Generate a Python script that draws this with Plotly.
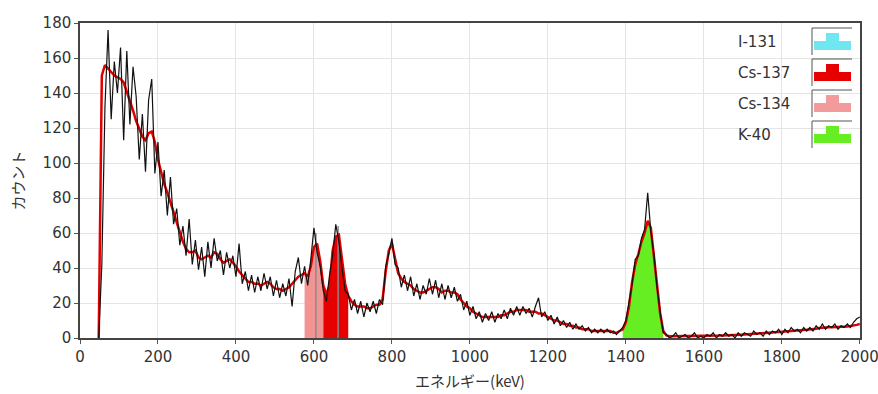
import numpy as np
import plotly.graph_objects as go

# ---------------- data ----------------
channel_start_kev = 48
channel_width_kev = 8

# raw counts (black), one value per 8 keV channel
raw_counts_a = [0, 42, 132, 176, 125, 158, 140, 166, 113, 164, 122, 155, 138, 102, 128, 95,
                136, 148, 94, 112, 81, 96, 70, 92, 65, 74, 53, 64, 47, 68, 42, 56,
                39, 52, 35, 55, 40, 57, 44, 50, 36, 49, 40, 47, 35]
raw_counts_b = [54, 31, 38, 27, 36, 26, 35, 27, 37, 28, 35, 24, 33, 23, 31, 24,
                34, 18, 38, 46, 31, 41, 30, 45, 63, 49, 41, 27, 21, 36, 47, 65,
                55, 40, 27, 25, 16, 22, 14, 21, 12, 20, 15, 21, 14, 22, 19, 41,
                48, 57]
raw_counts_c = [42, 40, 29, 36, 27, 35, 24, 31, 22, 30, 25, 34, 25, 33, 23, 31,
                22, 30, 23, 29, 21, 25, 16, 21, 13, 18, 11, 15, 9, 14, 10, 15,
                9, 14, 11, 16, 11, 17, 13, 18, 13, 18, 14, 17, 12, 18, 23, 12,
                15, 10, 13, 8, 12, 7, 10, 6, 9, 5, 8, 5, 7, 4, 6, 3,
                5, 3, 5, 3, 5, 3, 4, 2, 4, 6, 10]
raw_counts_d = [20, 31, 45, 47, 57, 62, 83, 61, 48, 29, 15, 3, 2, 0, 1, 3,
                0, 1, 2, 0, 1, 3, 0, 1, 0, 2, 1, 3, 0, 2, 1, 3,
                1, 2, 0, 3, 1, 3, 2, 1, 4, 2, 3, 1, 4, 2, 4, 3,
                5, 2, 5, 3, 6, 4, 5, 3, 6, 4, 6, 4, 7, 5, 8, 5,
                7, 6, 8, 5, 7, 6, 8, 6, 9, 11, 12]

# smoothed spectrum (red), same channels
smooth_counts_a = [0, 150, 156, 154, 152, 150, 149, 148, 146, 141, 135, 130, 124, 119, 115, 113,
                   117, 118, 112, 102, 95, 88, 83, 78, 72, 66, 60, 55, 51, 49, 49, 50,
                   46, 45, 46, 47, 46, 49, 48, 45, 43, 44, 45, 43, 41]
smooth_counts_b = [38, 36, 34, 32, 32, 31, 31, 30, 31, 32, 31, 29, 28, 28, 27, 28,
                   29, 31, 33, 35, 36, 37, 35, 41, 52, 54, 44, 30, 25, 30, 50, 58,
                   59, 44, 31, 24, 21, 19, 18, 18, 18, 17, 17, 18, 19, 19, 22, 38,
                   50, 54]
smooth_counts_c = [45, 37, 34, 32, 31, 30, 28, 27, 26, 26, 27, 28, 29, 29, 28, 26,
                   27, 27, 26, 26, 25, 22, 20, 18, 17, 15, 14, 13, 12, 12, 12, 12,
                   12, 12, 13, 13, 14, 15, 15, 16, 16, 16, 16, 15, 15, 15, 14, 14,
                   13, 12, 11, 10, 10, 9, 8, 8, 7, 7, 6, 6, 5, 5, 5, 4,
                   4, 4, 4, 4, 4, 4, 3, 3, 4, 5, 9]
smooth_counts_d = [18, 32, 42, 48, 55, 60, 67, 63, 46, 31, 14, 4, 1.5, 1, 1, 1.2,
                   1.2, 1.1, 1, 1, 1, 1, 1, 1.1, 1.2, 1.2, 1.3, 1.3, 1.4, 1.4, 1.5, 1.5,
                   1.6, 1.6, 1.7, 1.8, 1.9, 2.0, 2.1, 2.2, 2.2, 2.3, 2.4, 2.5, 2.7, 2.9, 3.0, 3.2,
                   3.4, 3.6, 3.8, 4.0, 4.2, 4.3, 4.4, 4.5, 4.6, 4.7, 4.8, 5.0, 5.3, 5.7, 6.0, 6.2,
                   6.2, 6.2, 6.2, 6.3, 6.4, 6.5, 6.6, 6.8, 7.0, 7.5, 8]

# nuclide regions of interest (keV)
roi_names = ["Cs-134", "Cs-137", "K-40"]
roi_low_kev = [576, 624, 1392]
roi_high_kev = [624, 688, 1496]
roi_colors = ["#F39494", "#E60000", "#66EE22"]

# peak marker lines
peak_marker_kev = [605, 662]
peak_marker_top = [60, 64]

legend_labels = ["I-131", "Cs-137", "Cs-134", "K-40"]
legend_colors = ["#6FE6F0", "#E60000", "#F39A9A", "#66EE22"]

x_ticks = list(range(0, 2001, 200))
y_ticks = list(range(0, 181, 20))

# ---------------- build ----------------
raw = np.array(raw_counts_a + raw_counts_b + raw_counts_c + raw_counts_d, dtype=float)
smooth = np.array(smooth_counts_a + smooth_counts_b + smooth_counts_c + smooth_counts_d, dtype=float)
energy = channel_start_kev + channel_width_kev * np.arange(len(raw))

fig = go.Figure()

for name, lo, hi, col in zip(roi_names, roi_low_kev, roi_high_kev, roi_colors):
    m = (energy >= lo) & (energy <= hi)
    fig.add_trace(go.Scatter(x=energy[m], y=smooth[m], mode="lines", fill="tozeroy",
                             fillcolor=col, line=dict(width=0, color=col),
                             showlegend=False, hoverinfo="skip"))

for e, t in zip(peak_marker_kev, peak_marker_top):
    fig.add_trace(go.Scatter(x=[e, e], y=[0, t], mode="lines",
                             line=dict(color="#8A8A8A", width=1.5),
                             showlegend=False, hoverinfo="skip"))

fig.add_trace(go.Scatter(x=energy, y=smooth, mode="lines",
                         line=dict(color="#E00000", width=2.5), showlegend=False))
fig.add_trace(go.Scatter(x=energy, y=raw, mode="lines",
                         line=dict(color="#111111", width=1.2), showlegend=False))

# ---------------- layout ----------------
L, R, T, B = 80, 18, 23, 56
W, H = 878, 394
pw, ph = W - L - R, H - T - B

def px(xp):
    return (xp - L) / pw

def py(yp):
    return (H - B - yp) / ph

axis_common = dict(showline=True, linecolor="#444444", linewidth=1.5, mirror=True,
                   ticks="outside", ticklen=4, tickcolor="#555555",
                   showgrid=True, gridcolor="#E4E4E4", gridwidth=1, zeroline=False,
                   automargin=False, ticklabeloverflow="allow",
                   tickfont=dict(family="DejaVu Sans", size=15, color="#333333"))

fig.update_layout(
    width=W, height=H,
    margin=dict(l=L, r=R, t=T, b=B),
    paper_bgcolor="white", plot_bgcolor="white",
    xaxis=dict(range=[0, 2000.5], tickvals=x_ticks,
               title=dict(text="エネルギー(keV)", standoff=12,
                          font=dict(family="Noto Sans CJK JP", size=15, color="#333333")),
               **axis_common),
    yaxis=dict(range=[0, 180], tickvals=y_ticks,
               title=dict(text="カウント", standoff=14,
                          font=dict(family="Noto Sans CJK JP", size=15, color="#333333")),
               **axis_common),
)

shapes = []
annotations = []
row_top0 = 28
row_gap = 31
for i, (lab, col) in enumerate(zip(legend_labels, legend_colors)):
    top = row_top0 + i * row_gap
    shapes.append(dict(type="line", xref="paper", yref="paper",
                       x0=px(812), x1=px(852), y0=py(top), y1=py(top),
                       line=dict(color="#555555", width=1)))
    shapes.append(dict(type="line", xref="paper", yref="paper",
                       x0=px(812), x1=px(812), y0=py(top), y1=py(top + 27),
                       line=dict(color="#555555", width=1)))
    pts = [(814, top + 22), (814, top + 13), (826, top + 13), (826, top + 5),
           (839, top + 5), (839, top + 13), (851, top + 13), (851, top + 22)]
    path = "M " + " L ".join(f"{px(a):.5f},{py(b):.5f}" for a, b in pts) + " Z"
    shapes.append(dict(type="path", xref="paper", yref="paper", path=path,
                       fillcolor=col, line=dict(width=0)))
    annotations.append(dict(xref="paper", yref="paper", x=px(736), y=py(top + 14),
                            xanchor="left", yanchor="middle", showarrow=False, text=lab,
                            font=dict(family="DejaVu Sans", size=15, color="#333333")))

fig.update_layout(shapes=shapes, annotations=annotations)

fig.write_html("out.html", config={"displayModeBar": False},
               post_script="document.body.style.margin='0';")
